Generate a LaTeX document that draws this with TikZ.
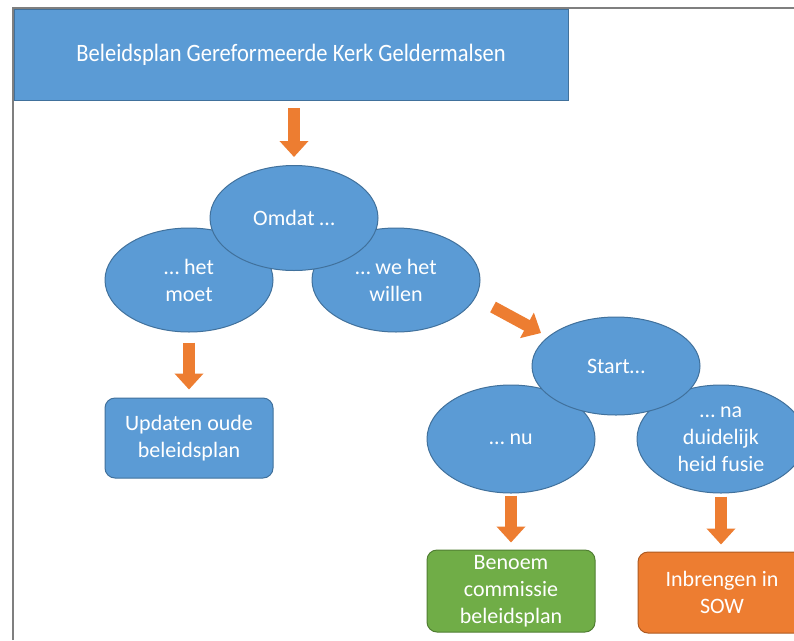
\documentclass[tikz,border=0pt]{standalone}
\usepackage{fontspec}
\setmainfont{Carlito}
\newfontfamily\titlefont{Carlito}[FakeStretch=0.9]
\usetikzlibrary{shapes.geometric,arrows.meta}
\definecolor{cblue}{HTML}{5B9BD5}
\definecolor{cblueline}{HTML}{41719C}
\definecolor{corange}{HTML}{ED7D31}
\definecolor{corangeline}{HTML}{AE5A21}
\definecolor{cgreen}{HTML}{70AD47}
\definecolor{cgreenline}{HTML}{507E32}
\definecolor{framegray}{HTML}{7F7F7F}
\begin{document}
\begin{tikzpicture}[x=1pt,y=-1pt,
  txt/.style={text=white,font=\fontsize{22}{27}\selectfont,align=center,inner sep=0pt},
  oval/.style={txt,ellipse,minimum width=168pt,minimum height=104pt,fill=cblue,draw=cblueline,line width=1pt},
  rbox/.style={txt,rectangle,rounded corners=10pt,minimum width=168pt,minimum height=80pt,fill=cblue,draw=cblueline,line width=1pt},
  barrow/.style={draw=corange,line width=12pt,-{Triangle[width=28pt,length=16pt]}},
]
\useasboundingbox (0,0) rectangle (794,640);
\fill[white] (0,0) rectangle (794,640);
% frame
\draw[framegray,line width=2.5pt] (13,640) -- (13,8) -- (794,8);
% title
\node[txt,rectangle,minimum width=554pt,minimum height=91pt,fill=cblue,draw=cblueline,line width=0.8pt,font=\titlefont\fontsize{25}{30}\selectfont] (title) at (291,54.5) {Beleidsplan Gereformeerde Kerk Geldermalsen};
% ellipses, first group
\node[oval] (hetmoet) at (189,280) {… het\\moet};
\node[oval] (willen) at (396,280) {… we het\\willen};
\node[oval,minimum height=105pt] (omdat) at (294,218) {Omdat …};
% ellipses, second group
\node[oval,minimum height=108pt] (nu) at (511,439) {… nu};
\node[oval,minimum height=108pt] (fusie) at (721,439) {… na\\duidelijk\\heid fusie};
\node[oval,minimum height=98pt] (start) at (616,366) {Start…};
% boxes
\node[rbox] (updaten) at (189,438) {Updaten oude\\beleidsplan};
\node[rbox,minimum height=82pt,fill=cgreen,draw=cgreenline] (benoem) at (511,591) {Benoem\\commissie\\beleidsplan};
\node[rbox,minimum height=81pt,fill=corange,draw=corangeline] (inbrengen) at (722,592.5) {Inbrengen in\\SOW};
% arrows
\draw[barrow,shorten <=8pt,shorten >=8pt] (omdat.north |- title.south) -- (omdat.north);
\draw[barrow,shorten <=10pt,shorten >=8pt] (hetmoet.south) -- (updaten.north);
\coordinate (d1) at (493,307);
\coordinate (d2) at (541,333);
\draw[barrow] (d1) -- (d2);
\draw[barrow,shorten <=2pt,shorten >=7pt] (nu.south) -- (benoem.north);
\draw[barrow,shorten <=3pt,shorten >=7pt] (fusie.south) -- (fusie.south |- inbrengen.north);
\end{tikzpicture}
\end{document}
